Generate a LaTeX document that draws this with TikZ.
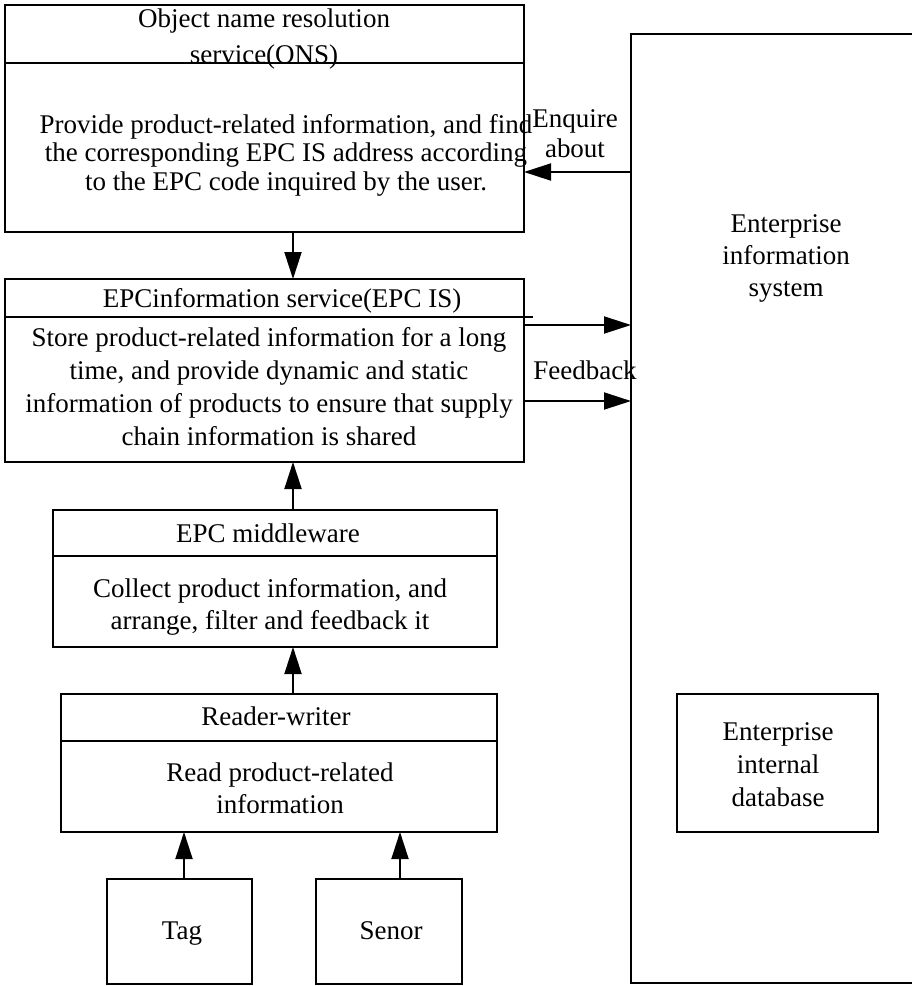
\documentclass[tikz,border=0pt]{standalone}
\usepackage{fontspec}
\setmainfont{Liberation Serif}
\usetikzlibrary{arrows.meta}
\begin{document}
\begin{tikzpicture}[x=1pt,y=-1pt,
  frame/.style={draw, line width=1.9pt, outer sep=0pt, inner sep=0pt, anchor=north west},
  rule/.style={line width=1.9pt},
  txt/.style={inner sep=0pt, align=center, font=\fontsize{27}{#1}\selectfont},
  txt/.default=32,
  one/.style={txt, text height=19pt, text depth=6pt},
  arr/.style={line width=1.9pt, -{Triangle[length=27pt,width=17pt]}},
]
\useasboundingbox (0,0) rectangle (912,986);

% layered EPC stack on the left
\node[frame, minimum width=519pt, minimum height=227pt] (ons) at (5,5) {};
\draw[rule] (5,63) -- (524,63);
\node[txt=36] (onsT) at (264,39) {Object name resolution\\service(ONS)};
\node[txt=28.5] (onsB) at (286,155) {Provide product-related information, and find\\the corresponding EPC IS address according\\to the EPC code inquired by the user.};

\node[frame, minimum width=519pt, minimum height=183pt] (epcis) at (5,279) {};
\draw[rule] (5,317) -- (533,317);
\node[one] (epcisT) at (282,301) {EPCinformation service(EPC IS)};
\node[txt=33] (epcisB) at (269,387) {Store product-related information for a long\\time, and provide dynamic and static\\information of products to ensure that supply\\chain information is shared};

\node[frame, minimum width=444pt, minimum height=137pt] (mid) at (53,510) {};
\draw[rule] (53,556) -- (497,556);
\node[one] (midT) at (268,536) {EPC middleware};
\node[txt] (midB) at (270,607) {Collect product information, and\\arrange, filter and feedback it};

\node[frame, minimum width=436pt, minimum height=138pt] (rw) at (61,694) {};
\draw[rule] (61,741) -- (497,741);
\node[one] (rwT) at (276,719) {Reader-writer};
\node[txt] (rwB) at (280,788) {Read product-related\\information};

\node[frame, minimum width=145pt, minimum height=105pt] (tag) at (107,879) {};
\node[one] (tagT) at (182,933) {Tag};
\node[frame, minimum width=146pt, minimum height=105pt] (sen) at (316,879) {};
\node[one] (senT) at (391,933) {Senor};

% enterprise side; its right edge runs past the page
\node[frame, minimum width=320pt, minimum height=949pt] (ent) at (631,34) {};
\node[txt] (entT) at (786,258) {Enterprise\\information\\system};
\node[frame, minimum width=201pt, minimum height=138pt] (db) at (677,694) {};
\node[txt=33] (dbT) at (778,765) {Enterprise\\internal\\database};

% connector lanes
\coordinate (spine) at (293,0);
\coordinate (tagx) at (184,0);
\coordinate (senx) at (400,0);
\coordinate (askY) at (0,172);
\coordinate (outA) at (0,325);
\coordinate (outB) at (0,401);

\draw[arr] (ons.south -| spine) -- (epcis.north -| spine);
\draw[arr] (mid.north -| spine) -- (epcis.south -| spine);
\draw[arr] (rw.north -| spine) -- (mid.south -| spine);
\draw[arr] (tag.north -| tagx) -- (rw.south -| tagx);
\draw[arr] (sen.north -| senx) -- (rw.south -| senx);
\draw[arr] (ent.west |- askY) -- (ons.east |- askY);
\draw[arr] (epcis.east |- outA) -- (ent.west |- outA);
\draw[arr] (epcis.east |- outB) -- (ent.west |- outB);

\node[txt=30] (askT) at (575,134) {Enquire\\about};
\node[one] (fbT) at (585,373) {Feedback};
\end{tikzpicture}
\end{document}
